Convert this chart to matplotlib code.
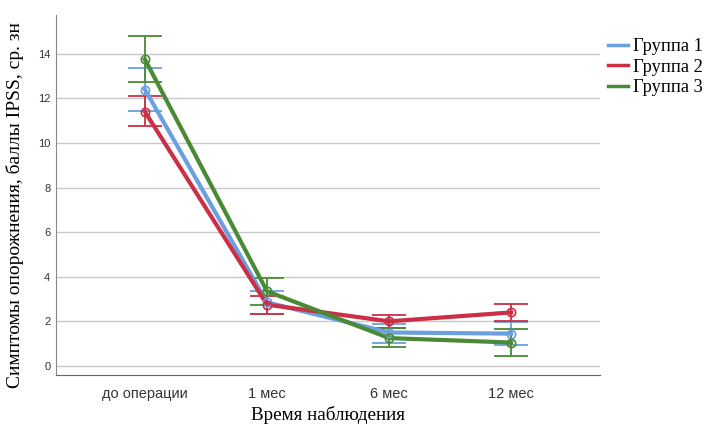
import numpy as np
import matplotlib
matplotlib.use('Agg')
import matplotlib.pyplot as plt

# Средние значения и 95% ДИ по группам
periods = ['до операции', '1 мес', '6 мес', '12 мес']
groups = ['Группа 1', 'Группа 2', 'Группа 3']

mean_g1 = [12.4, 2.85, 1.5, 1.45]
low_g1 = [11.45, 2.35, 1.05, 0.95]
high_g1 = [13.35, 3.35, 1.9, 1.95]

mean_g2 = [11.4, 2.75, 2.0, 2.4]
low_g2 = [10.75, 2.35, 1.7, 2.0]
high_g2 = [12.1, 3.15, 2.3, 2.8]

mean_g3 = [13.75, 3.35, 1.25, 1.05]
low_g3 = [12.75, 2.75, 0.85, 0.45]
high_g3 = [14.8, 3.95, 1.7, 1.65]

colors = ['#6a9fe0', '#cc2f45', '#4a8a35']

fig = plt.figure(figsize=(7.07, 4.25), dpi=100)
ax = fig.add_axes([0.079, 0.118, 0.77, 0.847])

x = np.arange(len(periods))
series = [(mean_g1, low_g1, high_g1), (mean_g2, low_g2, high_g2), (mean_g3, low_g3, high_g3)]

# сначала ДИ (тонкие), потом линии
for (m, lo, hi), c in zip(series, colors):
    m = np.array(m)
    err = [m - np.array(lo), np.array(hi) - m]
    ax.errorbar(x, m, yerr=err, fmt='none', ecolor=c, elinewidth=1.3,
                capsize=12, capthick=1.3, zorder=3)

for (m, lo, hi), c, g in zip(series, colors, groups):
    ax.plot(x, m, color=c, lw=3, label=g, zorder=4)
    ax.plot(x, m, 'o', ms=6, mfc='none', mec=c, mew=1.2, zorder=5)

ax.set_xlim(-0.73, 3.73)
ax.set_ylim(-0.4, 15.75)
ax.set_yticks(np.arange(0, 15, 2))
ax.set_xticks(x)
ax.set_xticklabels(periods, fontfamily='Liberation Sans', fontsize=10.5)
for t in ax.get_yticklabels():
    t.set_fontfamily('Liberation Sans')
    t.set_fontsize(8)
ax.tick_params(axis='y', length=0, pad=4, colors='#333333')
ax.tick_params(axis='x', length=0, pad=9, colors='#333333')
ax.yaxis.grid(True, color='#c8c8c8', lw=1)
ax.set_axisbelow(True)
for s in ['top', 'right']:
    ax.spines[s].set_visible(False)
ax.spines['left'].set_color('#888888')
ax.spines['bottom'].set_color('#666666')

ax.set_xlabel('Время наблюдения', fontfamily='Liberation Serif', fontsize=13.8, labelpad=3)
ax.set_ylabel('Симптомы опорожнения, баллы IPSS, ср. зн', fontfamily='Liberation Serif',
              fontsize=14)
ax.yaxis.set_label_coords(-0.058, 0.472)

leg = ax.legend(loc='upper left', bbox_to_anchor=(1.0, 0.955), frameon=False,
                prop={'family': 'Liberation Serif', 'size': 13.3},
                handlelength=1.1, handletextpad=0.25, labelspacing=0.18, borderaxespad=0)
for h in leg.get_lines():
    h.set_linewidth(2.5)

fig.savefig('out.png', dpi=100)
